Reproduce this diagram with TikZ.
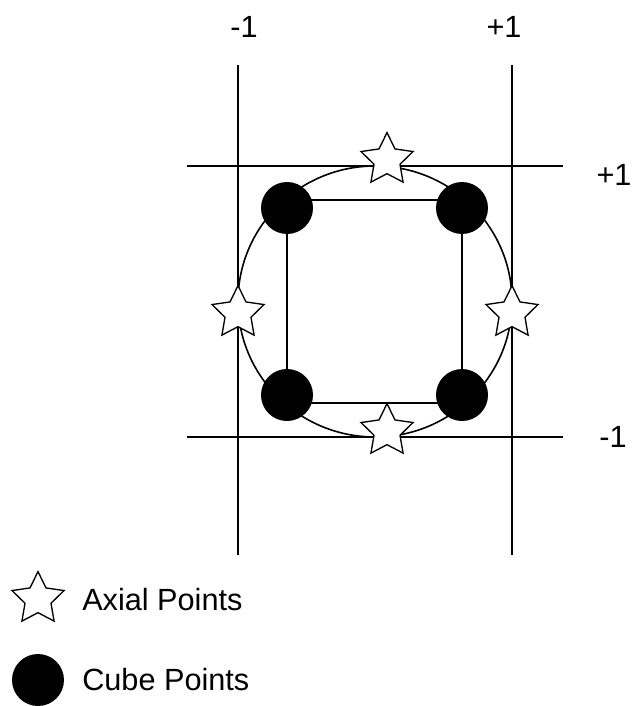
\documentclass[tikz,border=0pt]{standalone}
\usepackage{fontspec}
\setmainfont{Liberation Sans}
\usepackage{tikz}
\usetikzlibrary{shapes.geometric,positioning}

\begin{document}
\begin{tikzpicture}[x=0.75pt,y=-0.75pt,
  cube/.style={circle,fill=black,minimum size=39pt,inner sep=0pt},
  axial/.style={star,star points=5,star point ratio=2,draw=black,fill=white,line width=1pt,minimum size=41pt,inner sep=0pt},
  grid/.style={draw=black,line width=1.2pt},
  lbl/.style={font=\fontsize{23}{27}\selectfont,inner sep=0pt}
]
\useasboundingbox (0,0) rectangle (634,706);
% level lines
\coordinate (vl top) at (238,65);
\coordinate (vl bot) at (238,555);
\coordinate (vr top) at (512,65);
\coordinate (vr bot) at (512,555);
\coordinate (ht left) at (187,166);
\coordinate (ht right) at (563,166);
\coordinate (hb left) at (187,437);
\coordinate (hb right) at (563,437);
\foreach \a/\b in {vl top/vl bot,vr top/vr bot,ht left/ht right,hb left/hb right} \draw[grid] (\a)--(\b);
% circle and square
\draw[grid] (375,301.5) ellipse [x radius=137, y radius=135.5];
\draw[grid] (287,200) rectangle (462,403);
% cube points
\node[cube] (tl) at (287,208) {};
\node[cube] (tr) at (462,208) {};
\node[cube] (bl) at (287,395) {};
\node[cube] (br) at (462,395) {};
% axial points
\node[axial] (top) at (387,160) {};
\node[axial] (bottom) at (387,431) {};
\node[axial] (left) at (238,313) {};
\node[axial] (right) at (512,313) {};
% labels
\node[lbl] (xminus) at (244,27) {-1};
\node[lbl] (xplus) at (504,27) {+1};
\node[lbl] (yplus) at (614,175) {+1};
\node[lbl] (yminus) at (613,437) {-1};
% legend
\node[axial] (legstar) at (38,599) {};
\node[lbl,anchor=west] (legstartext) at (82,600) {Axial Points};
\node[cube] (legcube) at (38,680) {};
\node[lbl,anchor=west] (legcubetext) at (82,680) {Cube Points};
\end{tikzpicture}
\end{document}
